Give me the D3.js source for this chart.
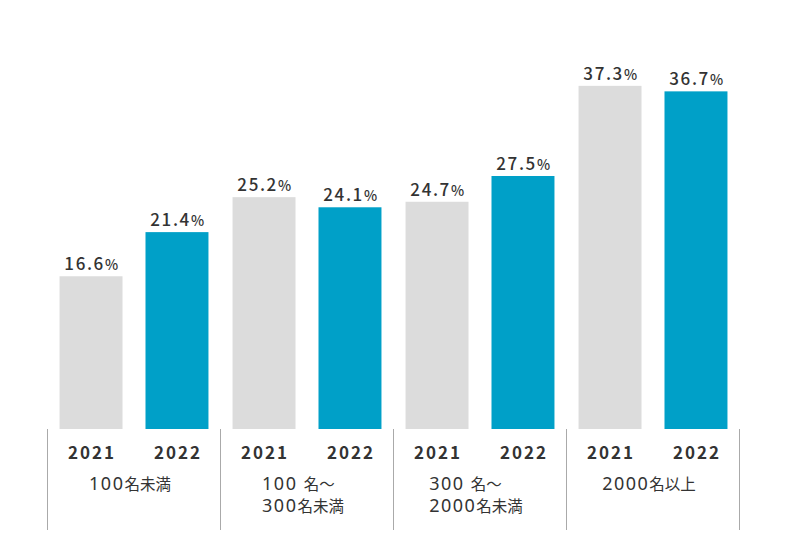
<!DOCTYPE html>
<html>
<head>
<meta charset="utf-8">
<script src="https://cdn.jsdelivr.net/npm/d3@7"></script>
<style>
  body { margin: 0; background: #fff; }
  text { fill: #333; }
  .val, .yr { font-family: "Noto Sans CJK JP", "Noto Sans", sans-serif; }
  .cat { font-family: "Noto Sans", "Noto Sans CJK JP", sans-serif; }
</style>
</head>
<body>
<svg width="800" height="560"></svg>
<script>
var categories = ["100名未満", "100 名～\n300名未満", "300 名～\n2000名未満", "2000名以上"];
var years = ["2021", "2022"];
var values2021 = [16.6, 25.2, 24.7, 37.3];
var values2022 = [21.4, 24.1, 27.5, 36.7];
var colors = {"2021": "#dcdcdc", "2022": "#00a0c8"};

var svg = d3.select("svg");

var baseY = 429;

var x0 = d3.scaleBand()
    .domain(categories)
    .range([47.5, 739.5]);

var x1 = d3.scaleBand()
    .domain(years)
    .range([0, x0.bandwidth()])
    .paddingInner(23 / 86)
    .paddingOuter(0.14);

var y = d3.scaleLinear()
    .domain([0, 40])
    .range([baseY, baseY - 368]);

var data = categories.map(function(c, i) {
  return {cat: c, vals: [
    {year: "2021", v: values2021[i]},
    {year: "2022", v: values2022[i]}
  ]};
});

var g = svg.selectAll(".grp")
  .data(data)
  .enter().append("g")
    .attr("class", "grp")
    .attr("transform", function(d) { return "translate(" + x0(d.cat) + ",0)"; });

g.selectAll("rect")
  .data(function(d) { return d.vals; })
  .enter().append("rect")
    .attr("x", function(d) { return x1(d.year); })
    .attr("y", function(d) { return y(d.v); })
    .attr("width", x1.bandwidth())
    .attr("height", function(d) { return baseY - y(d.v); })
    .attr("fill", function(d) { return colors[d.year]; });

// value labels
var vl = g.selectAll(".val")
  .data(function(d) { return d.vals; })
  .enter().append("text")
    .attr("class", "val")
    .attr("x", function(d) { return x1(d.year) + x1.bandwidth() / 2 + 1; })
    .attr("y", function(d) { return y(d.v) - 6; })
    .attr("text-anchor", "middle")
    .style("letter-spacing", "1.6px");
vl.append("tspan")
    .attr("font-size", "17px")
    .attr("font-weight", 500)
    .text(function(d) { return d.v.toFixed(1); });
vl.append("tspan")
    .attr("font-size", "14px")
    .attr("font-weight", 500)
    .text("%");

// year labels
g.selectAll(".yr")
  .data(function(d) { return d.vals; })
  .enter().append("text")
    .attr("class", "yr")
    .attr("x", function(d) { return x1(d.year) + x1.bandwidth() / 2 + 1; })
    .attr("y", 459)
    .attr("text-anchor", "middle")
    .attr("font-size", "17px")
    .attr("font-weight", 700)
    .style("letter-spacing", "2px")
    .text(function(d) { return d.year; });

// category labels (digits larger than kanji)
g.each(function(d) {
  var lines = d.cat.split("\n");
  var grp = d3.select(this);
  var texts = lines.map(function(line, li) {
    var t = grp.append("text")
        .attr("class", "cat")
        .attr("font-size", "15px")
        .attr("y", 490 + li * 22);
    line.split(/(\d+\s?)/).filter(function(s) { return s.length; }).forEach(function(part) {
      var isNum = /\d/.test(part);
      t.append("tspan")
          .attr("font-size", isNum ? "18px" : "15.5px")
          .style("letter-spacing", isNum ? "1.5px" : "0px")
          .text(part);
    });
    return t;
  });
  var w = d3.max(texts, function(t) { return t.node().getComputedTextLength(); });
  var left = x0.bandwidth() / 2 - 4 - w / 2;
  texts.forEach(function(t) { t.attr("x", left); });
});

// separators
var seps = categories.map(function(c) { return x0(c); }).concat([x0.range()[1]]);
svg.selectAll(".sep")
  .data(seps)
  .enter().append("line")
    .attr("class", "sep")
    .attr("x1", function(d) { return d; })
    .attr("x2", function(d) { return d; })
    .attr("y1", baseY)
    .attr("y2", 530)
    .attr("stroke", "#aaa")
    .attr("stroke-width", 1);
</script>
</body>
</html>
